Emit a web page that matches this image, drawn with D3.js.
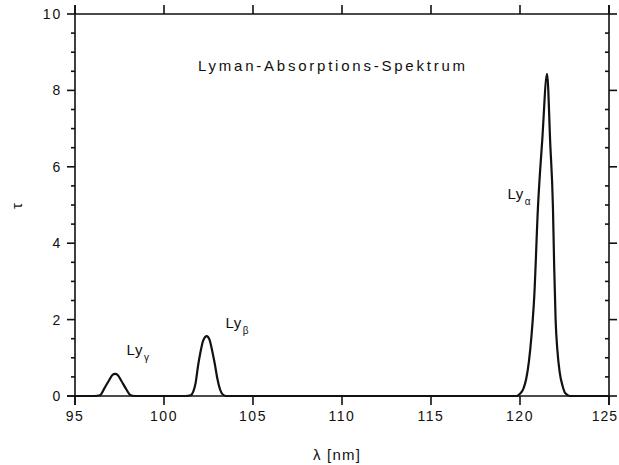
<!DOCTYPE html>
<html>
<head>
<meta charset="utf-8">
<script src="https://cdn.jsdelivr.net/npm/d3@7"></script>
<style>
  body { margin: 0; background: #fff; }
  text { font-family: "Liberation Sans", Arial, sans-serif; fill: #111; }
</style>
</head>
<body>
<div id="chart"></div>
<script>
// wavelength (nm) and optical depth tau
var lambdaNm = [95, 96.1, 96.4, 96.65, 96.9, 97.1, 97.25, 97.4, 97.6, 97.85, 98.1, 98.35,
  101.2, 101.5, 101.65, 101.78, 101.91, 102.05, 102.2, 102.4, 102.55, 102.7, 102.85, 103.0, 103.15, 103.3, 103.5,
  119.8, 120.0, 120.2, 120.35, 120.5, 120.65, 120.8, 121.01, 121.25, 121.52, 121.7, 121.85, 121.92, 122.0, 122.1, 122.22, 122.4, 122.55, 122.8, 125];
var tau = [0, 0, 0.02, 0.2, 0.4, 0.55, 0.58, 0.55, 0.4, 0.2, 0.03, 0,
  0, 0.02, 0.12, 0.35, 0.78, 1.15, 1.45, 1.57, 1.48, 1.2, 0.85, 0.45, 0.17, 0.04, 0,
  0, 0.06, 0.2, 0.45, 0.9, 1.6, 2.6, 4.95, 6.7, 8.43, 6.6, 4.95, 3.4, 2.0, 1.2, 0.65, 0.25, 0.07, 0, 0];

var xTicks = [95, 100, 105, 110, 115, 120, 125];
var yTicks = [0, 2, 4, 6, 8, 10];
var yMinorTicks = d3.range(0, 10.01, 0.5);

// line labels: name, subscript, position in data units
var lineNames = ["Ly", "Ly", "Ly"];
var lineSubs = ["\u03b3", "\u03b2", "\u03b1"];
var lineLabelX = [97.9, 103.45, 119.3];
var lineLabelY = [1.07, 1.78, 5.15];

var width = 619;
var height = 465;
var padL = 75, padR = 609, padT = 14, padB = 396;

var svg = d3.select("#chart").append("svg")
  .attr("width", width)
  .attr("height", height);

var x = d3.scaleLinear().domain([95, 125]).range([padL, padR]);
var y = d3.scaleLinear().domain([0, 10]).range([padB, padT]);

// frame
var frame = svg.append("g")
  .attr("stroke", "#111")
  .attr("stroke-width", 1.6)
  .attr("fill", "none");
frame.append("line").attr("x1", padL - 8).attr("x2", padR).attr("y1", padB).attr("y2", padB);
frame.append("line").attr("x1", padL).attr("x2", padR).attr("y1", padT).attr("y2", padT);
frame.append("line").attr("x1", padL).attr("x2", padL).attr("y1", padT - 9).attr("y2", padB + 9);
frame.append("line").attr("x1", padR).attr("x2", padR).attr("y1", padT - 9).attr("y2", padB + 9);

// x ticks, outward on bottom and top
frame.selectAll(".xb").data(xTicks).enter().append("line")
  .attr("x1", function (d) { return x(d) }).attr("x2", function (d) { return x(d) })
  .attr("y1", padB).attr("y2", padB + 9);
frame.selectAll(".xt").data(xTicks).enter().append("line")
  .attr("x1", function (d) { return x(d) }).attr("x2", function (d) { return x(d) })
  .attr("y1", padT).attr("y2", padT - 9);

// y ticks: majors outward, minors short
frame.selectAll(".yl").data(yMinorTicks).enter().append("line")
  .attr("x1", function (d) { return d % 2 === 0 ? padL - 8 : padL - 4 }).attr("x2", padL)
  .attr("y1", function (d) { return y(d) }).attr("y2", function (d) { return y(d) });
frame.selectAll(".yr").data(yMinorTicks).enter().append("line")
  .attr("x1", function (d) { return d % 2 === 0 ? padR + 8 : padR - 4 }).attr("x2", padR)
  .attr("y1", function (d) { return y(d) }).attr("y2", function (d) { return y(d) });

// tick labels (last one kept inside the page edge)
svg.selectAll(".xlab").data(xTicks).enter().append("text")
  .attr("x", function (d, i) { return i === xTicks.length - 1 ? width - 1 : x(d) })
  .attr("y", padB + 25)
  .attr("text-anchor", function (d, i) { return i === xTicks.length - 1 ? "end" : "middle" })
  .attr("font-size", 14)
  .attr("letter-spacing", function (d, i) { return i === xTicks.length - 1 ? 1 : 1.5 })
  .text(function (d) { return d });

svg.selectAll(".ylab").data(yTicks).enter().append("text")
  .attr("x", padL - 13)
  .attr("y", function (d) { return y(d) + 5 })
  .attr("text-anchor", "end")
  .attr("font-size", 14)
  .attr("letter-spacing", 1.8)
  .text(function (d) { return d });

// spectrum
var line = d3.line()
  .x(function (d) { return x(d[0]) })
  .y(function (d) { return y(d[1]) })
  .curve(d3.curveMonotoneX);

svg.append("path")
  .datum(d3.zip(lambdaNm, tau))
  .attr("d", line)
  .attr("fill", "none")
  .attr("stroke", "#111")
  .attr("stroke-width", 2.2)
  .attr("stroke-linejoin", "round");

// title
svg.append("text")
  .attr("x", 198)
  .attr("y", 71)
  .attr("font-size", 15)
  .attr("textLength", 267)
  .attr("lengthAdjust", "spacing")
  .text("Lyman-Absorptions-Spektrum");

// line labels
var labels = svg.selectAll(".ly").data(lineNames).enter().append("text")
  .attr("x", function (d, i) { return x(lineLabelX[i]) })
  .attr("y", function (d, i) { return y(lineLabelY[i]) })
  .attr("font-size", 15)
  .attr("letter-spacing", 0.5);
labels.append("tspan").text(function (d) { return d });
labels.append("tspan")
  .attr("dx", 1)
  .attr("dy", 6)
  .attr("font-size", 10)
  .text(function (d, i) { return lineSubs[i] });

// axis titles
svg.append("text")
  .attr("x", 337)
  .attr("y", 460)
  .attr("text-anchor", "middle")
  .attr("font-size", 15)
  .attr("letter-spacing", 1.2)
  .text("\u03bb [nm]");

svg.append("text")
  .attr("transform", "translate(22,206) rotate(-90)")
  .attr("text-anchor", "middle")
  .attr("font-size", 15)
  .text("\u03c4");
</script>
</body>
</html>
